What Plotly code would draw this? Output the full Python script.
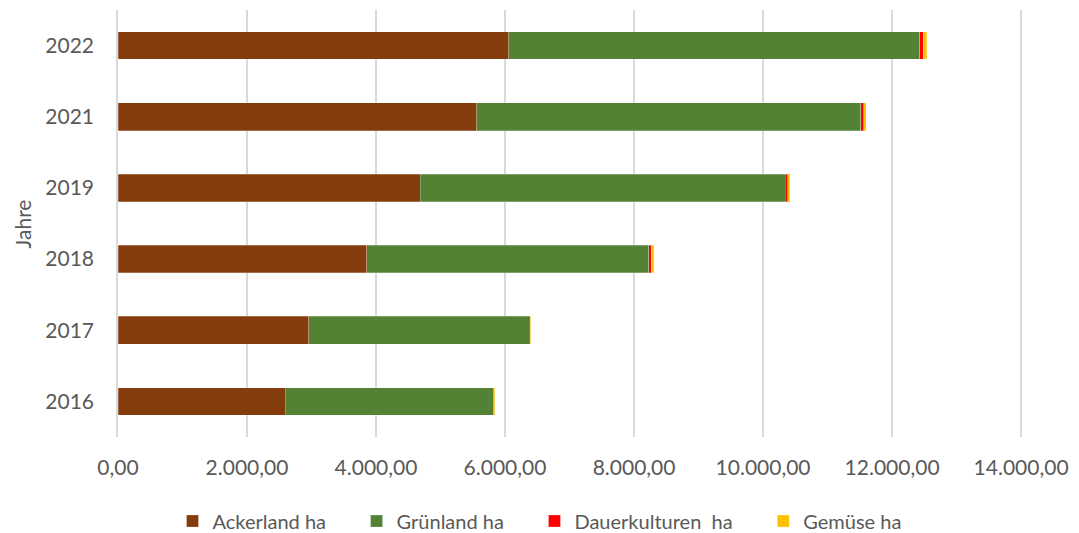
import plotly.graph_objects as go

years = ["2016", "2017", "2018", "2019", "2021", "2022"]
ackerland = [2594, 2958, 3855, 4682, 5563, 6055]
gruenland = [3226, 3420, 4370, 5661, 5949, 6376]
dauerkulturen = [8, 10, 41, 42, 51, 51]
gemuese = [10, 12, 42, 30, 37, 56]

series_names = ["Ackerland ha", "Grünland ha", "Dauerkulturen\u00a0 ha", "Gemüse ha"]
series_values = [ackerland, gruenland, dauerkulturen, gemuese]
colors = ["#843C0C", "#548235", "#FF0000", "#FFC000"]

x_ticks = [0, 2000, 4000, 6000, 8000, 10000, 12000, 14000]

PAD = "\u00a0" * 5

fig = go.Figure()
for i, (name, vals, col) in enumerate(zip(series_names, series_values, colors)):
    label = name + (PAD if i < len(series_names) - 1 else "")
    fig.add_trace(go.Bar(
        y=years, x=vals, name=label, orientation="h",
        marker=dict(color=col, line=dict(width=0.5, color="rgba(255,255,255,0.5)")),
    ))

fig.update_layout(
    barmode="stack",
    bargap=0.61,
    width=1079, height=533,
    margin=dict(l=118, r=48, t=10, b=96),
    paper_bgcolor="white", plot_bgcolor="white",
    separators=",.",
    font=dict(family="Lato", size=21, color="#595959"),
    showlegend=True,
    legend=dict(orientation="h", xref="container", x=0.5, xanchor="center",
                yref="container", y=0.0225, yanchor="middle",
                font=dict(size=20, color="#595959"), traceorder="normal"),
    xaxis=dict(range=[0, 14030], tickvals=x_ticks, tickformat=",.2f",
               showgrid=True, gridcolor="#D9D9D9", gridwidth=1.5,
               zeroline=False, showline=False, ticklabelstandoff=16,
               fixedrange=True),
    yaxis=dict(type="category", categoryorder="array", categoryarray=years,
               showgrid=False, zeroline=False, showline=True, linecolor="#D9D9D9",
               linewidth=1.5, ticklabelstandoff=18, fixedrange=True),
    annotations=[dict(text="Jahre", xref="paper", yref="paper",
                      x=-0.105, y=0.5, textangle=-90, showarrow=False,
                      xanchor="center", yanchor="middle",
                      font=dict(size=21, color="#595959"))],
)

fig.write_html(
    "out.html",
    config={"displayModeBar": False},
    post_script="document.body.style.margin='0';document.body.style.overflow='hidden';",
)
